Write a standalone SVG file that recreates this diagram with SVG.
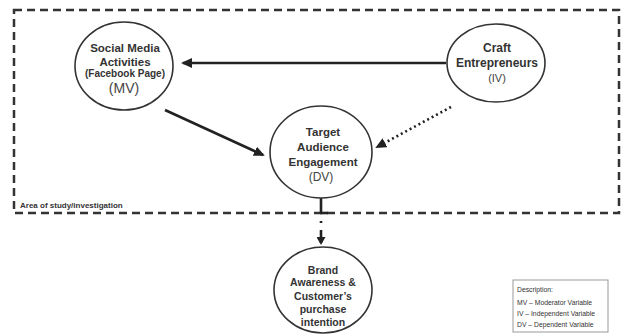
<svg xmlns="http://www.w3.org/2000/svg" width="621" height="335" viewBox="0 0 621 335">
<style>
.node{fill:#fff;stroke:#333;stroke-width:1.6}
.t{font-family:"Liberation Sans",Arial,sans-serif;font-weight:bold;fill:#333;text-anchor:middle}
.v{font-family:"Liberation Sans",Arial,sans-serif;fill:#444;text-anchor:middle}
.ln{stroke:#222;stroke-width:2.6;fill:none}
.dot{stroke:#222;stroke-width:2.6;fill:none;stroke-dasharray:2 3}
.d{font-family:"Liberation Sans",Arial,sans-serif;font-size:6.8px;fill:#333}
</style>
<defs>
<marker id="ah" markerWidth="8" markerHeight="9" refX="6" refY="4.5" orient="auto" markerUnits="userSpaceOnUse" viewBox="0 0 8 9">
<path d="M0,0 L8,4.5 L0,9 Z" fill="#222"/>
</marker>
<marker id="ah2" markerWidth="11" markerHeight="10" refX="9" refY="5" orient="auto" markerUnits="userSpaceOnUse" viewBox="0 0 11 10">
<path d="M0,0 L11,5 L0,10 Z" fill="#222"/>
</marker>
</defs>
<rect width="621" height="335" fill="#fff"/>
<rect x="14" y="10" width="605" height="203" fill="none" stroke="#333" stroke-width="2.5" stroke-dasharray="8 5"/>
<text x="20" y="208" font-family="Liberation Sans,Arial,sans-serif" font-weight="bold" font-size="8" fill="#333">Area of study/investigation</text>
<g id="connectors">
<line class="ln" x1="446" y1="63" x2="183" y2="63" marker-end="url(#ah2)"/>
<line class="ln" x1="165" y1="110" x2="263" y2="155" marker-end="url(#ah2)"/>
<line class="dot" x1="451" y1="107" x2="377" y2="147" marker-end="url(#ah2)"/>
<line class="ln" x1="321" y1="198" x2="321" y2="213"/>
<line class="ln" x1="320" y1="213" x2="328" y2="213"/>
<line class="dot" x1="321" y1="221" x2="321" y2="224"/>
<line class="ln" x1="321" y1="230" x2="321" y2="243" marker-end="url(#ah)"/>
</g>
<g id="social">
<ellipse class="node" cx="124" cy="66" rx="49" ry="44"/>
<text class="t" x="125" y="52" font-size="11.5">Social Media</text>
<text class="t" x="125" y="66" font-size="11.5">Activities</text>
<text class="t" x="125" y="77" font-size="10">(Facebook Page)</text>
<text class="v" x="124" y="93" font-size="14">(MV)</text>
</g>
<g id="craft">
<ellipse class="node" cx="496" cy="63" rx="49" ry="39"/>
<text class="t" x="497" y="52" font-size="12">Craft</text>
<text class="t" x="497" y="67" font-size="12">Entrepreneurs</text>
<text class="v" x="497" y="82" font-size="11" fill="#555">(IV)</text>
</g>
<g id="target">
<ellipse class="node" cx="321" cy="152" rx="51" ry="46"/>
<text class="t" x="323" y="136" font-size="11.5">Target</text>
<text class="t" x="323" y="151" font-size="11.5">Audience</text>
<text class="t" x="323" y="166" font-size="11.5">Engagement</text>
<text class="v" x="321" y="181" font-size="12">(DV)</text>
</g>
<g id="brand">
<ellipse class="node" cx="323" cy="290" rx="49" ry="43"/>
<text class="t" x="323" y="274" font-size="10.5">Brand</text>
<text class="t" x="323" y="286" font-size="10.5">Awareness &amp;</text>
<text class="t" x="323" y="300" font-size="10.5">Customer’s</text>
<text class="t" x="323" y="313" font-size="10.5">purchase</text>
<text class="t" x="323" y="326" font-size="10.5">intention</text>
</g>
<g id="legend">
<rect x="513" y="280" width="95" height="52" fill="#fff" stroke="#999" stroke-width="1"/>
<text class="d" x="517" y="292">Description:</text>
<text class="d" x="517" y="305">MV – Moderator Variable</text>
<text class="d" x="517" y="316">IV – Independent Variable</text>
<text class="d" x="517" y="327">DV – Dependent Variable</text>
</g>
</svg>
